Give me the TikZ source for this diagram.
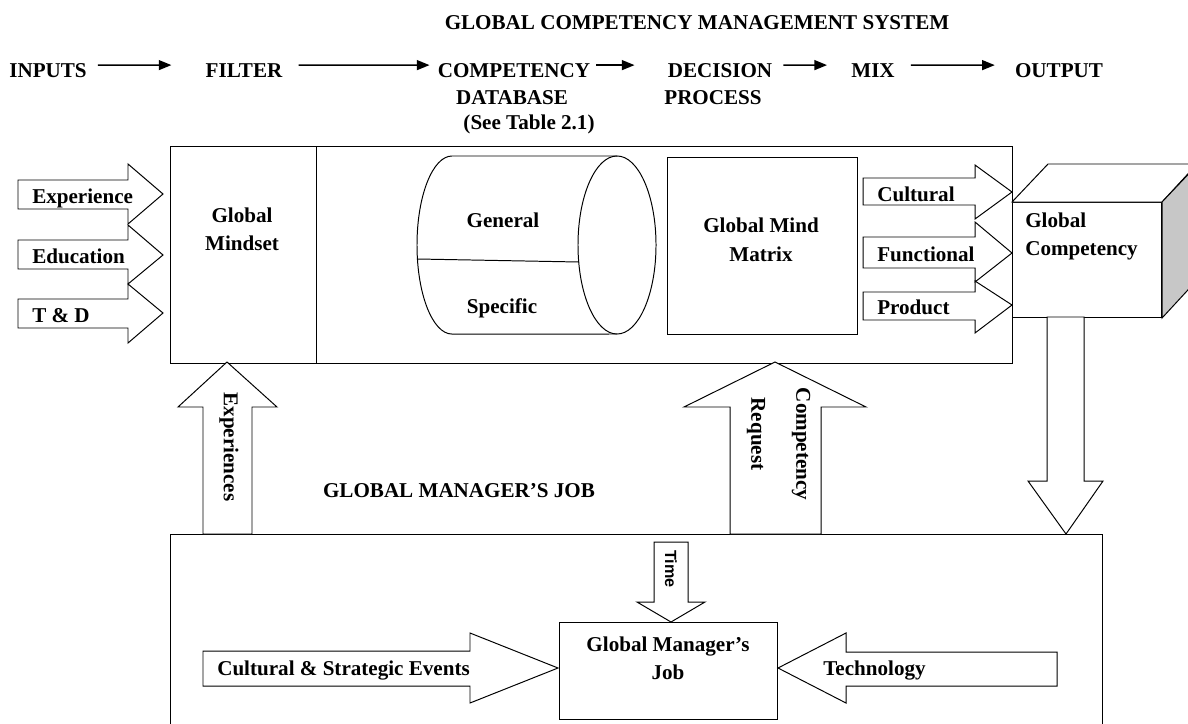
\documentclass[tikz,border=0pt]{standalone}
\usepackage{fontspec}
\setmainfont{Liberation Serif}
\newfontfamily\timefont{Liberation Sans}
\usetikzlibrary{arrows.meta}
\tikzstyle{lbl} = [font=\fontsize{15}{20}\selectfont\bfseries, inner sep=0pt]
\tikzstyle{box} = [draw, line width=0.7pt]
\tikzstyle{blk} = [draw, fill=white, line width=0.7pt, line join=miter]
\tikzstyle{flow} = [draw, line width=1.2pt, -{Triangle[length=9pt,width=7pt]}]

\begin{document}
\begin{tikzpicture}[x=0.025cm, y=-0.025cm, every node/.style={lbl}]
    \useasboundingbox (0,0) rectangle (1188,723);
    % heading and process row
    \node [anchor=base] (title) at (697,29) {GLOBAL COMPETENCY MANAGEMENT SYSTEM};
    \node [anchor=base] (inputs) at (48,77) {INPUTS};
    \node [anchor=base] (filter) at (244,77) {FILTER};
    \node [anchor=base] (compdb) at (514,77) {COMPETENCY};
    \node [anchor=base] (database) at (512,104) {DATABASE};
    \node [anchor=base] (seetab) at (529,129) {(See Table 2.1)};
    \node [anchor=base] (decision) at (720,77) {DECISION};
    \node [anchor=base] (process) at (713,104) {PROCESS};
    \node [anchor=base] (mix) at (873,77) {MIX};
    \node [anchor=base] (output) at (1059,77) {OUTPUT};
    \path [flow] ([shift={(11,-5)}]inputs.east) -- ([shift={(-34,-5)}]filter.west);
    \path [flow] ([shift={(16,-5)}]filter.east) -- ([shift={(-8,-5)}]compdb.west);
    \path [flow] ([shift={(6,-5)}]compdb.east) -- ([shift={(-33,-5)}]decision.west);
    \path [flow] ([shift={(11,-5)}]decision.east) -- ([shift={(-24,-5)}]mix.west);
    \path [flow] ([shift={(16,-5)}]mix.east) -- ([shift={(-20,-5)}]output.west);

    % system box
    \node [box, anchor=north west, minimum width=21.05cm, minimum height=5.425cm] (gcms) at (170,146) {};
    \draw [box] (gcms.north west) ++(146,0) -- ++(0,217);
    \node [anchor=base] (mindset) at (242,222) {Global};
    \node [anchor=base] (mindsetb) at (242,250) {Mindset};
    % database cylinder
    \draw [box] (617,156) -- (452,156) arc [start angle=90, end angle=270, x radius=0.875cm, y radius=2.225cm] -- (617,334);
    \draw [box] (617,245) ellipse [x radius=0.975cm, y radius=2.225cm];
    \draw [box] (417.5,259) -- (579,262);
    \node [anchor=base] (general) at (503,227) {General};
    \node [anchor=base] (specific) at (502,313) {Specific};
    \node [box, anchor=north west, minimum width=4.75cm, minimum height=4.425cm] (gmm) at (667,157) {};
    \node [anchor=base] (gmmtop) at (761,232) {Global Mind};
    \node [anchor=base] (gmmbot) at (761,261) {Matrix};

    % inputs
    \draw [blk] (18,180) -- (128,180) -- (128,164) -- (163,194) -- (128,224) -- (128,209) -- (18,209) -- cycle;
    \draw [blk] (18,240) -- (128,240) -- (128,225) -- (163,255) -- (128,284) -- (128,269) -- (18,269) -- cycle;
    \draw [blk] (18,299) -- (128,299) -- (128,284) -- (163,313) -- (128,343) -- (128,328) -- (18,328) -- cycle;
    \node [anchor=base west] (exper) at (32,203) {Experience};
    \node [anchor=base west] (educ) at (32,263) {Education};
    \node [anchor=base west] (tandd) at (32,322) {T \& D};

    % mix
    \draw [blk] (863,178) -- (975,178) -- (975,165) -- (1012,192) -- (975,219) -- (975,205) -- (863,205) -- cycle;
    \draw [blk] (863,237) -- (975,237) -- (975,222) -- (1012,253) -- (975,282) -- (975,268) -- (863,268) -- cycle;
    \draw [blk] (863,292) -- (975,292) -- (975,281) -- (1012,305) -- (975,333) -- (975,320) -- (863,320) -- cycle;
    \node [anchor=base west] (cult) at (877,201) {Cultural};
    \node [anchor=base west] (func) at (877,261) {Functional};
    \node [anchor=base west] (prod) at (877,314) {Product};

    % output cube
    \node [box, fill=white, anchor=north west, minimum width=3.725cm, minimum height=2.875cm] (gcomp) at (1012,202) {};
    \draw [blk] (gcomp.north west) -- ++(36,-38) -- ++(149,0) -- (gcomp.north east) -- cycle;
    \draw [blk, fill=black!22] (gcomp.north east) -- ++(36,-38) -- ++(0,115) -- (gcomp.south east) -- cycle;
    \node [anchor=base west] (gcompa) at (1025,227) {Global};
    \node [anchor=base west] (gcompb) at (1025,255) {Competency};

    % manager's job
    \node [box, anchor=north west, minimum width=23.3cm, minimum height=5cm] (job) at (170,534) {};
    \node [anchor=base] (jobtitle) at (459,497) {GLOBAL MANAGER’S JOB};
    \draw [blk] (203,534) -- (203,407) -- (178,407) -- (227,362) -- (277,407) -- (252,407) -- (252,534) -- cycle;
    \node [rotate=-90] (expcs) at (229,447) {Experiences};
    \draw [blk] (730,534) -- (730,407) -- (684,407) -- (775,362) -- (866,407) -- (821,407) -- (821,534) -- cycle;
    \node [rotate=-90] (request) at (756,434) {Request};
    \node [rotate=-90] (compreq) at (801,444) {Competency};
    \draw [blk] (1047,317) -- (1047,481) -- (1028,481) -- (1066,534) -- (1103,481) -- (1084,481) -- (1084,317) -- cycle;

    \node [box, anchor=north west, minimum width=5.45cm, minimum height=2.425cm] (gmj) at (559,622) {};
    \node [anchor=base] (gmja) at (668,651) {Global Manager’s};
    \node [anchor=base] (gmjb) at (668,679) {Job};
    \draw [blk] (654,542) -- (654,602) -- (637,602) -- (671,622) -- (705,602) -- (688,602) -- (688,542) -- cycle;
    \node [rotate=-90, font=\timefont\fontsize{11.5}{13}\selectfont\bfseries] (time) at (671,569) {Time};
    \draw [blk] (203,651) -- (470,651) -- (470,633) -- (558,668) -- (470,703) -- (470,686) -- (203,686) -- cycle;
    \node [anchor=base west] (events) at (217,675) {Cultural \& Strategic Events};
    \draw [blk] (1057,652) -- (846,652) -- (846,633) -- (778,668) -- (846,703) -- (846,686) -- (1057,686) -- cycle;
    \node [anchor=base west] (tech) at (823,675) {Technology};
\end{tikzpicture}
\end{document}
